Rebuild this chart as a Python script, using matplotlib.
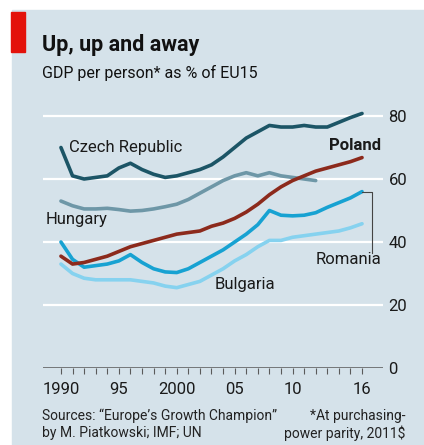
import matplotlib
matplotlib.use("Agg")
import matplotlib.pyplot as plt
from matplotlib import font_manager

names = {f.name for f in font_manager.fontManager.ttflist}
font = "Liberation Sans Narrow" if "Liberation Sans Narrow" in names else "Roboto"
plt.rcParams["font.family"] = [font, "DejaVu Sans"]

years = list(range(1990, 2017))
czech = [70, 61, 60, 60.5, 61, 63.5, 65, 63, 61.5, 60.5, 61, 62, 63, 64.5,
         67, 70, 73, 75, 77, 76.5, 76.5, 77, 76.5, 76.5, 78, 79.5, 80.8]
hungary = [53, 51.5, 50.5, 50.5, 50.7, 50.3, 49.8, 50, 50.5, 51.2, 52, 53.5,
           55.5, 57.5, 59.5, 61, 62, 61, 62, 61, 60.5, 60, 59.5]
poland = [35.5, 33, 33.5, 34.5, 35.5, 37, 38.5, 39.5, 40.5, 41.5, 42.5, 43,
          43.5, 45, 46, 47.5, 49.5, 52, 55, 57.5, 59.5, 61, 62.5, 63.5, 64.5,
          65.5, 66.8]
romania = [40, 34.5, 32, 32.5, 33, 34, 36, 33.5, 31.5, 30.5, 30.3, 31.5, 33.5,
           35.5, 37.5, 40, 42.5, 45.5, 50, 48.5, 48.3, 48.5, 49.3, 51, 52.5,
           54, 56]
bulgaria = [33, 30, 28.5, 28, 28, 28, 28, 27.5, 27, 26, 25.5, 26.5, 27.5, 29.5,
            31.5, 34, 36, 38.5, 40.5, 40.5, 41.5, 42, 42.5, 43, 43.5, 44.5,
            45.8]

bg = "#d5e2ea"
W, H = 424, 445
fig = plt.figure(figsize=(W / 100, H / 100), dpi=100)

# panel + red tag
fig.patches.append(plt.Rectangle((12 / W, 0), 1, (H - 10) / H,
                                 transform=fig.transFigure, color=bg, zorder=-2))
fig.patches.append(plt.Rectangle((11 / W, (H - 52) / H), 14 / W, 40 / H,
                                 transform=fig.transFigure, color="#e3120b", zorder=-1))

ax = fig.add_axes([43 / W, 77 / H, 340 / W, 264.6 / H])
ax.set_zorder(2)
ax.set_facecolor("none")
ax.set_xlim(1988.45, 2017.81)
ax.set_ylim(0, 84)
for s in ax.spines.values():
    s.set_visible(False)

for v in [20, 40, 60, 80]:
    ax.axhline(v, color="white", lw=1.6, zorder=1)
ax.axhline(0, color="#5a5a5a", lw=1.1, zorder=2)

lw = 2.6
ax.plot(years, bulgaria, color="#86d2ef", lw=lw, zorder=3, solid_capstyle="round")
ax.plot(years, romania, color="#17a2d2", lw=lw, zorder=4, solid_capstyle="round")
ax.plot(years[:len(hungary)], hungary, color="#6e97a7", lw=lw, zorder=5, solid_capstyle="round")
ax.plot(years, czech, color="#1c5566", lw=lw, zorder=6, solid_capstyle="round")
ax.plot(years, poland, color="#8c2a1c", lw=lw, zorder=7, solid_capstyle="round")

# x ticks
ax.set_xticks(years)
ax.set_xticklabels(["1990" if y == 1990 else "2000" if y == 2000 else
                    f"{y % 100:02d}" if y in (1995, 2005, 2010, 2016) else ""
                    for y in years])
ax.tick_params(axis="x", length=4, width=0.8, color="#5a5a5a", pad=6,
               labelsize=12, labelcolor="#1a1a1a")
ax.yaxis.tick_right()
ax.set_yticks([0, 20, 40, 60, 80])
ax.tick_params(axis="y", length=0, pad=4, labelsize=12, labelcolor="#1a1a1a")

# labels
ax.text(1990.7, 70, "Czech Republic", fontsize=12, va="center", color="#1a1a1a")
ax.text(2017.6, 70.5, "Poland", fontsize=12, va="center", ha="right",
        fontweight="bold", color="#1a1a1a")
ax.text(1988.7, 47, "Hungary", fontsize=12, va="center", color="#1a1a1a")
ax.text(2014.8, 34.5, "Romania", fontsize=12, va="center", ha="center", color="#1a1a1a")
ax.text(2003.3, 26.5, "Bulgaria", fontsize=12, va="center", color="#1a1a1a")
ax.plot([2016, 2016.85, 2016.85], [romania[-1], romania[-1], 36.5],
        color="#444444", lw=0.8, zorder=8, clip_on=False)

# titles and notes
fig.text(42 / W, 1 - 45 / H, "Up, up and away", fontsize=15.5, fontweight="bold",
         va="center", color="#111111")
fig.text(42 / W, 1 - 73 / H, "GDP per person* as % of EU15", fontsize=11.5,
         va="center", color="#111111")
fig.text(42 / W, 1 - 416 / H, "Sources: \u201cEurope\u2019s Growth Champion\u201d",
         fontsize=10, va="center", color="#222222")
fig.text(42 / W, 1 - 433 / H, "by M. Piatkowski; IMF; UN",
         fontsize=10, va="center", color="#222222")
fig.text(405 / W, 1 - 416 / H, "*At purchasing-", fontsize=10, va="center",
         ha="right", color="#222222")
fig.text(405 / W, 1 - 433 / H, "power parity, 2011$", fontsize=10, va="center",
         ha="right", color="#222222")

fig.savefig("out.png", dpi=100, facecolor="white")
